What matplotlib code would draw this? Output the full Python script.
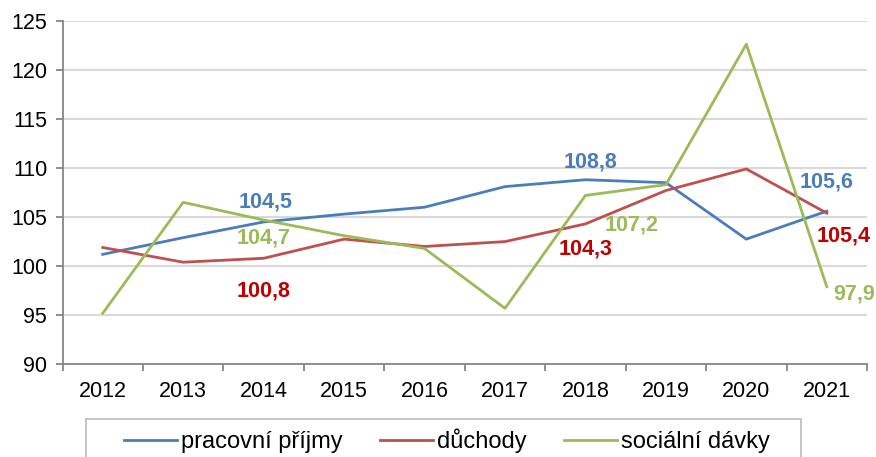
import matplotlib
matplotlib.use('Agg')
from matplotlib import pyplot as plt
from matplotlib.patches import Rectangle

plt.rcParams['font.family'] = ['Liberation Sans', 'DejaVu Sans']

roky = ['2012', '2013', '2014', '2015', '2016', '2017', '2018', '2019', '2020', '2021']
pracovni = [101.2, 102.9, 104.5, 105.3, 106.0, 108.1, 108.8, 108.5, 102.75, 105.6]
duchody = [101.9, 100.4, 100.8, 102.75, 102.0, 102.5, 104.3, 107.7, 109.9, 105.4]
socialni = [95.2, 106.5, 104.7, 103.1, 101.8, 95.7, 107.2, 108.3, 122.6, 97.9]

c_modra = '#4a7ebb'
c_cervena = '#c0504d'
c_zelena = '#9bbb59'

W, H = 876, 457
fig = plt.figure(figsize=(W / 100, H / 100), dpi=100)
ax = fig.add_axes([62.5 / W, 1 - 364.3 / H, (867 - 62.5) / W, (364.3 - 20.7) / H])

x = list(range(len(roky)))
l1, = ax.plot(x, pracovni, color=c_modra, lw=2.0, label='pracovní příjmy')
l2, = ax.plot(x, duchody, color=c_cervena, lw=2.0, label='důchody')
l3, = ax.plot(x, socialni, color=c_zelena, lw=2.0, label='sociální dávky')

ax.set_xlim(-0.5, len(roky) - 0.5)
ax.set_ylim(90, 125)
ax.set_yticks(range(90, 126, 5))
ax.set_xticks(x)
ax.set_xticklabels(roky)
ax.set_xticks([i - 0.5 for i in range(len(roky) + 1)], minor=True)
ax.tick_params(axis='x', which='major', length=0, pad=12, labelsize=15.5)
ax.tick_params(axis='x', which='minor', length=5, width=1.3, color='#868686', direction='out')
ax.tick_params(axis='y', length=5, width=1.3, color='#868686', pad=6, labelsize=15.5)
ax.grid(axis='y', color='#d9d9d9', lw=1.5)
ax.set_axisbelow(True)
for s in ['top', 'right']:
    ax.spines[s].set_visible(False)
for s in ['left', 'bottom']:
    ax.spines[s].set_color('#868686')
    ax.spines[s].set_linewidth(1.3)

# popisky hodnot
def popis(i, data, text, color, dx, dy):
    ax.annotate(text, (x[i], data[i]), xytext=(dx, dy), textcoords='offset pixels',
                ha='center', va='center', color=color, fontsize=15.5, fontweight='bold')

popis(2, pracovni, '104,5', c_modra, 2, 20)
popis(2, socialni, '104,7', c_zelena, 0, -18)
popis(2, duchody, '100,8', '#c00000', 0, -33)
popis(6, pracovni, '108,8', c_modra, 5, 18)
popis(6, duchody, '104,3', '#c00000', 0, -25)
popis(6, socialni, '107,2', c_zelena, 46, -30)
popis(9, pracovni, '105,6', c_modra, 0, 29)
popis(9, duchody, '105,4', '#c00000', 17, -23)
popis(9, socialni, '97,9', c_zelena, 27, -7)

# ramecek legendy
fig.patches.append(Rectangle((85.5 / W, -0.05), (801 - 85.5) / W, 0.05 + 1 - 418.5 / H,
                             transform=fig.transFigure, fill=False, edgecolor='#bfbfbf', lw=1.3))
fig.legend(handles=[l1, l2, l3], loc='center', bbox_to_anchor=(447 / W, 1 - 441 / H), ncol=3,
           frameon=False, fontsize=17, handlelength=2.25, handletextpad=0.17, columnspacing=1.57,
           borderpad=0)

fig.savefig('out.png', dpi=100)
